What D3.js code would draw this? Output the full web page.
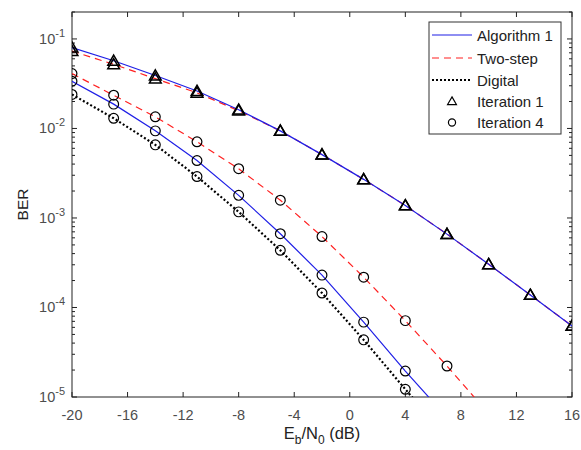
<!DOCTYPE html>
<html>
<head>
<meta charset="utf-8">
<script src="https://cdn.jsdelivr.net/npm/d3@7"></script>
<style>
  body { margin: 0; background: #fff; }
  text { font-family: Arial, "Liberation Sans", sans-serif; }
</style>
</head>
<body>
<svg id="chart" width="581" height="450"></svg>
<script>
// data
const snr = [-20, -17, -14, -11, -8, -5, -2, 1, 4, 7, 10, 13, 16];
const algIter1 = [0.080, 0.057, 0.039, 0.0262, 0.0162, 0.0094, 0.0051, 0.0027, 0.00138, 0.00066, 0.000304, 0.000138, 0.0000622];
const twoIter1 = [0.073, 0.052, 0.036, 0.0250, 0.0158, 0.0094, 0.0051, 0.0027, 0.00138, 0.00066, 0.000304, 0.000138, 0.0000622];
const algIter4 = [0.0337, 0.0187, 0.0094, 0.00438, 0.00179, 0.000667, 0.00023, 0.0000686, 0.0000195, 0.0000059];
const twoIter4 = [0.041, 0.0235, 0.0135, 0.0071, 0.00355, 0.00158, 0.00062, 0.000218, 0.0000713, 0.0000222, 0.0000065];
const digital = [0.024, 0.013, 0.00656, 0.0029, 0.00117, 0.000435, 0.000145, 0.0000435, 0.0000122, 0.0000035];
const xTicks = [-20, -16, -12, -8, -4, 0, 4, 8, 12, 16];
const yTicks = [-5, -4, -3, -2, -1];

const svg = d3.select('#chart');
const pLeft = 72, pRight = 572, pTop = 12, pBottom = 397;

const x = d3.scaleLinear().domain([-20, 16]).range([pLeft, pRight]);
const y = d3.scaleLog().domain([1e-5, 0.2]).range([pBottom, pTop]);

svg.append('defs').append('clipPath').attr('id', 'clip')
  .append('rect').attr('x', pLeft).attr('y', pTop)
  .attr('width', pRight - pLeft).attr('height', pBottom - pTop);

// minor ticks for log axis
const minor = [];
for (let e = -5; e <= -1; e++) {
  for (let m = 2; m <= 9; m++) {
    const v = m * Math.pow(10, e);
    if (v <= 0.2) minor.push(v);
  }
}

const axes = svg.append('g');
// frame
axes.append('rect').attr('x', pLeft).attr('y', pTop)
  .attr('width', pRight - pLeft).attr('height', pBottom - pTop)
  .attr('fill', 'none').attr('stroke', '#222').attr('stroke-width', 1);

xTicks.forEach(t => {
  axes.append('line').attr('x1', x(t)).attr('x2', x(t)).attr('y1', pBottom).attr('y2', pBottom - 5).attr('stroke', '#222');
  axes.append('line').attr('x1', x(t)).attr('x2', x(t)).attr('y1', pTop).attr('y2', pTop + 5).attr('stroke', '#222');
  axes.append('text').attr('x', x(t)).attr('y', pBottom + 23)
    .attr('text-anchor', 'middle').attr('font-size', 14.5).attr('fill', '#4d4d4d').text(t);
});

yTicks.forEach(e => {
  const yy = y(Math.pow(10, e));
  axes.append('line').attr('x1', pLeft).attr('x2', pLeft + 5).attr('y1', yy).attr('y2', yy).attr('stroke', '#222');
  axes.append('line').attr('x1', pRight).attr('x2', pRight - 5).attr('y1', yy).attr('y2', yy).attr('stroke', '#222');
  const t = axes.append('text').attr('x', pLeft - 7).attr('y', yy + 5)
    .attr('text-anchor', 'end').attr('font-size', 14.5).attr('fill', '#4d4d4d');
  t.append('tspan').text('10');
  t.append('tspan').attr('dy', -7).attr('font-size', 11).text(e);
});

minor.forEach(v => {
  const yy = y(v);
  axes.append('line').attr('x1', pLeft).attr('x2', pLeft + 3).attr('y1', yy).attr('y2', yy).attr('stroke', '#222');
  axes.append('line').attr('x1', pRight).attr('x2', pRight - 3).attr('y1', yy).attr('y2', yy).attr('stroke', '#222');
});

// axis labels
axes.append('text').attr('transform', `translate(28, ${(pTop + pBottom) / 2}) rotate(-90)`)
  .attr('text-anchor', 'middle').attr('font-size', 15.5).attr('fill', '#222').text('BER');

const xl = axes.append('text').attr('x', (pLeft + pRight) / 2).attr('y', 439)
  .attr('text-anchor', 'middle').attr('font-size', 16.5).attr('fill', '#222');
xl.append('tspan').text('E');
xl.append('tspan').attr('dy', 5).attr('font-size', 12).text('b');
xl.append('tspan').attr('dy', -5).text('/N');
xl.append('tspan').attr('dy', 5).attr('font-size', 12).text('0');
xl.append('tspan').attr('dy', -5).text(' (dB)');

// curves
const line = d3.line().x(d => x(d[0])).y(d => y(d[1]));
const plot = svg.append('g').attr('clip-path', 'url(#clip)');

const series = [
  { v: twoIter4, color: '#ff2020', dash: '7,5', width: 1.2, marker: 'circle' },
  { v: algIter4, color: '#1f1fe6', dash: null, width: 1.2, marker: 'circle' },
  { v: digital, color: '#000', dash: '2,2.2', width: 2.2, marker: 'circle' },
  { v: twoIter1, color: '#ff2020', dash: '7,5', width: 1.2, marker: 'triangle' },
  { v: algIter1, color: '#1f1fe6', dash: null, width: 1.2, marker: 'triangle' }
];

series.forEach(s => {
  const pts = s.v.map((v, i) => [snr[i], v]);
  plot.append('path').datum(pts).attr('d', line)
    .attr('fill', 'none').attr('stroke', s.color).attr('stroke-width', s.width)
    .attr('stroke-dasharray', s.dash);
});

series.forEach(s => {
  const pts = s.v.map((v, i) => [snr[i], v]).filter(d => d[1] >= 1e-5);
  const sym = s.marker === 'circle' ? d3.symbolCircle : d3.symbolTriangle;
  const size = s.marker === 'circle' ? 75 : 60;
  plot.selectAll(null).data(pts).enter().append('path')
    .attr('d', d3.symbol().type(sym).size(size))
    .attr('transform', d => `translate(${x(d[0])},${y(d[1]) + (s.marker === 'triangle' ? 1 : 0)})`)
    .attr('fill', 'none').attr('stroke', '#000').attr('stroke-width', s.marker === 'triangle' ? 1.5 : 1.2);
});

// legend
const lg = svg.append('g');
lg.append('rect').attr('x', 429).attr('y', 22).attr('width', 132).attr('height', 112)
  .attr('fill', '#fff').attr('stroke', '#333').attr('stroke-width', 1);
const legendItems = [
  { label: 'Algorithm 1', color: '#1f1fe6', dash: null, width: 1.2 },
  { label: 'Two-step', color: '#ff2020', dash: '7,5', width: 1.2 },
  { label: 'Digital', color: '#000', dash: '2,2', width: 2.2 },
  { label: 'Iteration 1', marker: 'triangle' },
  { label: 'Iteration 4', marker: 'circle' }
];
const rowY = [35, 58, 80, 101, 122.5];
legendItems.forEach((it, i) => {
  const yy = rowY[i];
  if (it.marker) {
    const sym = it.marker === 'circle' ? d3.symbolCircle : d3.symbolTriangle;
    lg.append('path').attr('d', d3.symbol().type(sym).size(it.marker === 'circle' ? 40 : 34))
      .attr('transform', `translate(452,${yy + (it.marker === 'triangle' ? 1 : 0)})`)
      .attr('fill', 'none').attr('stroke', '#000').attr('stroke-width', 1.2);
  } else {
    lg.append('line').attr('x1', 432).attr('x2', 472).attr('y1', yy).attr('y2', yy)
      .attr('stroke', it.color).attr('stroke-width', it.width).attr('stroke-dasharray', it.dash);
  }
  lg.append('text').attr('x', 477).attr('y', yy + 5.5).attr('font-size', 15).attr('fill', '#222').text(it.label);
});
</script>
</body>
</html>
